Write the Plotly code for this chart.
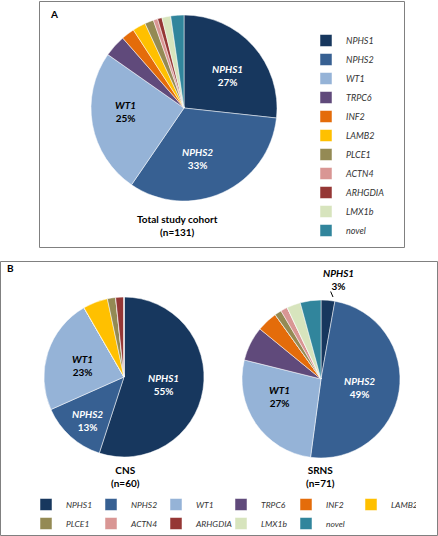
import plotly.graph_objects as go

genes = ["NPHS1", "NPHS2", "WT1", "TRPC6", "INF2", "LAMB2", "PLCE1", "ACTN4", "ARHGDIA", "LMX1b", "novel"]
total_counts = [35, 43, 33, 5, 3, 3, 2, 1, 1, 2, 3]
cns_counts = [33, 8, 14, 0, 0, 3, 1, 0, 1, 0, 0]
srns_counts = [2, 35, 19, 5, 3, 0, 1, 1, 0, 2, 3]
colors = ["#17375E", "#376092", "#95B3D7", "#604A7B", "#E46C0A", "#FFC000",
          "#948A54", "#D99694", "#953735", "#D7E4BD", "#31859C"]

FONT = "Lato, 'Open Sans', sans-serif"
W, H = 438, 536

def px(x):
    return x / W

def py(y):
    return 1 - y / H

fig = go.Figure()

def add_pie(counts, dom_px, legend, group):
    x0, x1, y0, y1 = dom_px
    fig.add_trace(go.Pie(
        labels=[f"<i>{g}</i>" for g in genes], values=counts,
        sort=False, direction="clockwise", rotation=0,
        marker=dict(colors=colors, line=dict(color="white", width=0.5)),
        textinfo="none", hoverinfo="label+value+percent",
        domain=dict(x=[px(x0), px(x1)], y=[py(y1), py(y0)]),
        legend=legend, legendgroup=group,
    ))

add_pie(total_counts, (91, 277, 15, 201), "legend", "A")
add_pie(cns_counts, (44, 204, 297, 457), "legend2", None)
add_pie(srns_counts, (242, 400, 300, 458), "legend2", None)

def pct(c, counts):
    return f"{round(100 * c / sum(counts))}%"

ann = []
def label(i, counts, x, y, color):
    ann.append(dict(x=px(x), y=py(y), xref="paper", yref="paper",
                    xanchor="center", yanchor="middle",
                    text=f"<b><i>{genes[i]}</i><br>{pct(counts[i], counts)}</b>",
                    showarrow=False, font=dict(family=FONT, size=10, color=color),
                    align="center"))

label(0, total_counts, 227, 75, "white")
label(1, total_counts, 197, 158, "white")
label(2, total_counts, 125, 112, "black")
label(0, cns_counts, 163, 384, "white")
label(1, cns_counts, 87, 420, "white")
label(2, cns_counts, 82, 365, "black")
label(1, srns_counts, 359, 387, "white")
label(2, srns_counts, 279, 396, "black")
label(0, srns_counts, 338, 279, "black")

# leader line for small slice
ann.append(dict(x=px(333), y=py(297), xref="paper", yref="paper", ax=-3, ay=-7,
                text="", showarrow=True, arrowhead=0, standoff=0, startstandoff=0,
                arrowwidth=1, arrowcolor="black"))

def txt(x, y, t, size=10, bold=True):
    ann.append(dict(x=px(x), y=py(y), xref="paper", yref="paper",
                    xanchor="center", yanchor="middle",
                    text=f"<b>{t}</b>" if bold else t, showarrow=False,
                    font=dict(family=FONT, size=size, color="black"), align="center"))

txt(177, 225, "Total study cohort<br>(n=131)")
txt(125, 476, "CNS<br>(n=60)")
txt(320, 476, "SRNS<br>(n=71)")
txt(54, 14, "A", size=10)
txt(10, 268, "B", size=10)

shapes = [
    dict(type="rect", xref="paper", yref="paper", x0=px(39.5), x1=px(404.5), y0=py(247.5), y1=py(1.5),
         line=dict(color="#808080", width=1)),
    dict(type="rect", xref="paper", yref="paper", x0=px(0.5), x1=px(437.5), y0=py(535.5), y1=py(261.5),
         line=dict(color="#808080", width=1)),
]

fig.update_layout(
    width=W, height=H, margin=dict(l=0, r=0, t=0, b=0, autoexpand=False),
    paper_bgcolor="white", plot_bgcolor="white",
    font=dict(family=FONT, size=9, color="#333333"),
    annotations=ann, shapes=shapes,
    legend=dict(x=px(306), y=py(26), xanchor="left", yanchor="top",
                font=dict(family=FONT, size=9), tracegroupgap=0, itemwidth=30,
                bgcolor="rgba(0,0,0,0)"),
    legend2=dict(x=px(26), y=py(490), xanchor="left", yanchor="top", orientation="h",
                 font=dict(family=FONT, size=8.5), entrywidth=20, entrywidthmode="pixels",
                 itemwidth=30, bgcolor="rgba(0,0,0,0)"),
)

fig.write_html("out.html", post_script="document.body.style.margin='0';",
               config={"displayModeBar": False})
